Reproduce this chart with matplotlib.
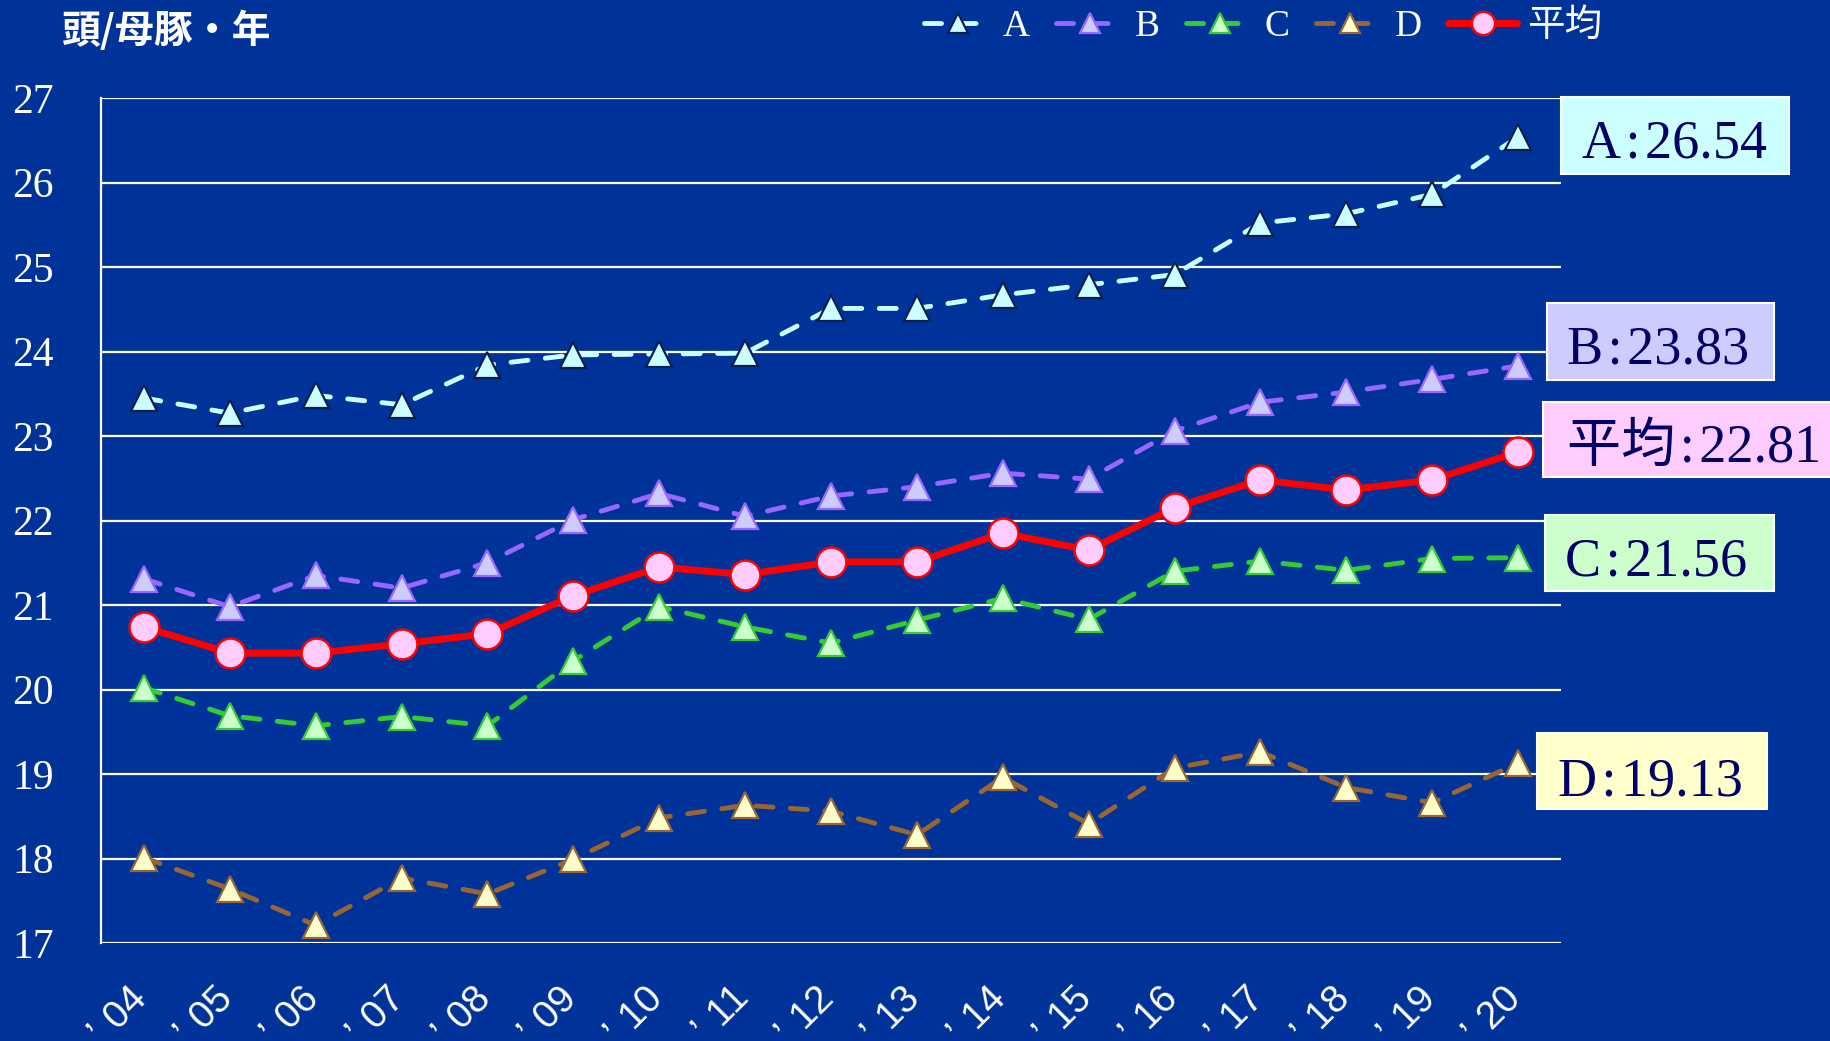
import matplotlib
matplotlib.use("Agg")
import matplotlib.pyplot as plt
from matplotlib.patches import Rectangle
from matplotlib.transforms import ScaledTranslation

# ---------------- data ----------------
years = ["’ \u200a04", "’ \u200a05", "’ \u200a06", "’ \u200a07", "’ \u200a08", "’ \u200a09",
         "’ \u200a10", "’ \u200a11", "’ \u200a12", "’ \u200a13", "’ \u200a14", "’ \u200a15",
         "’ \u200a16", "’ \u200a17", "’ \u200a18", "’ \u200a19", "’ \u200a20"]
series_A = [23.45, 23.27, 23.48, 23.37, 23.84, 23.96, 23.97, 23.98, 24.51,
            24.51, 24.67, 24.79, 24.91, 25.52, 25.63, 25.86, 26.54]
series_B = [21.31, 20.98, 21.35, 21.20, 21.50, 22.01, 22.32, 22.05, 22.29,
            22.40, 22.56, 22.49, 23.06, 23.40, 23.52, 23.67, 23.83]
series_C = [20.02, 19.69, 19.57, 19.68, 19.57, 20.34, 20.98, 20.74, 20.55,
            20.82, 21.08, 20.83, 21.40, 21.52, 21.41, 21.55, 21.56]
series_D = [18.01, 17.64, 17.21, 17.77, 17.58, 17.99, 18.48, 18.63, 18.56,
            18.28, 18.96, 18.41, 19.07, 19.26, 18.84, 18.66, 19.13]
series_avg = [20.74, 20.43, 20.43, 20.54, 20.66, 21.11, 21.45, 21.36, 21.51,
              21.51, 21.85, 21.65, 22.15, 22.48, 22.36, 22.48, 22.81]
series_names = ["A", "B", "C", "D", "平均"]
y_ticks = [17, 18, 19, 20, 21, 22, 23, 24, 25, 26, 27]
y_unit = "頭/母豚・年"

# ---------------- style ----------------
W, H = 1830, 1041
BG = "#003399"
NAVY = "#000066"
serif_fam = ["Liberation Serif", "Noto Sans CJK JP"]

fig = plt.figure(figsize=(W / 100, H / 100), dpi=100, facecolor=BG)
ax = fig.add_axes([101 / W, 98 / H, (1561 - 101) / W, (943 - 98) / H])
ax.set_facecolor(BG)

x = list(range(len(years)))
styles = [
    dict(data=series_A, color="#ccffff", mfc="#ccffff", mec="#0a1f50", marker="^", ms=18.5, ls="--"),
    dict(data=series_B, color="#9966ff", mfc="#ccccff", mec="#9966ff", marker="^", ms=18.5, ls="--"),
    dict(data=series_C, color="#33cc33", mfc="#ccffcc", mec="#33cc33", marker="^", ms=18.5, ls="--"),
    dict(data=series_D, color="#996633", mfc="#ffffcc", mec="#996633", marker="^", ms=18.5, ls="--"),
    dict(data=series_avg, color="#ff0000", mfc="#ffccff", mec="#ff0000", marker="o", ms=21.5, ls="-"),
]
for name, st in zip(series_names, styles):
    if st["ls"] == "--":
        ax.plot(x, st["data"], color=st["color"], lw=3.5, dashes=(3.5, 3.6),
                dash_capstyle="round", marker=st["marker"], ms=st["ms"],
                mfc=st["mfc"], mec=st["mec"], mew=1.6, label=name, zorder=3)
    else:
        ax.plot(x, st["data"], color=st["color"], lw=5, solid_capstyle="round",
                marker=st["marker"], ms=st["ms"], mfc=st["mfc"], mec=st["mec"],
                mew=1.8, label=name, zorder=4)

ax.set_xlim(-0.5, 16.5)
ax.set_ylim(17, 27)
ax.set_yticks(y_ticks)
ax.set_yticklabels([str(v) for v in y_ticks], fontsize=30, color="white",
                   family="Liberation Serif")
ax.set_xticks(x)
ax.set_xticklabels([])
ax.tick_params(axis="y", length=0, pad=34)
ax.tick_params(axis="x", length=0)
# rotated year labels, anchored at their right end on the baseline
lab_tr = ax.get_xaxis_transform() + ScaledTranslation(5 / 100, -57 / 100, fig.dpi_scale_trans)
for i, lab in zip(x, years):
    ax.text(i, 0, lab, transform=lab_tr, rotation=45, rotation_mode="anchor",
            ha="right", va="baseline", fontsize=28, color="white",
            family="Liberation Sans", clip_on=False)

ax.grid(axis="y", color="white", lw=1.6)
ax.set_axisbelow(True)
for s in ["top", "right", "bottom"]:
    ax.spines[s].set_visible(False)
ax.spines["left"].set_color("white")
ax.spines["left"].set_linewidth(1.6)

# legend
leg = fig.legend(loc="center left", bbox_to_anchor=(905 / W, 1 - 27 / H),
                 bbox_transform=fig.transFigure, ncol=5, frameon=False,
                 prop={"family": serif_fam, "size": 27}, handlelength=1.85,
                 handletextpad=0.25, columnspacing=0.7, borderpad=0,
                 markerscale=0.78, numpoints=1)
for t in leg.get_texts():
    t.set_color("white")

# y unit title
fig.text(62 / W, 1 - 31 / H, y_unit, va="center", ha="left", fontsize=28,
         weight="bold", color="white", family=["Noto Sans CJK JP"])

# end-value label boxes
HS = "\u200a"
box_specs = [
    ("A", series_A[-1], "#ccffff", (1561, 97, 1789, 174), (1582, 158)),
    ("B", series_B[-1], "#ccccff", (1547, 303, 1774, 380), (1567, 363)),
    ("平均", series_avg[-1], "#ffccff", (1543, 402, 1845, 477), (1567, 462)),
    ("C", series_C[-1], "#ccffcc", (1545, 515, 1774, 591), (1565, 575)),
    ("D", series_D[-1], "#ffffcc", (1537, 733, 1767, 809), (1558, 795)),
]
for name, val, fc, (x0, y0, x1, y1), (tx, ty) in box_specs:
    fig.add_artist(Rectangle((x0 / W, 1 - y1 / H), (x1 - x0) / W, (y1 - y0) / H,
                             transform=fig.transFigure, fc=fc, ec="white", lw=1.5))
    fig.text(tx / W, 1 - ty / H, f"{name}{HS}:{HS}{val:.2f}", va="baseline", ha="left",
             fontsize=39, color=NAVY, family=serif_fam)

fig.savefig("out.png", dpi=100, facecolor=BG)
